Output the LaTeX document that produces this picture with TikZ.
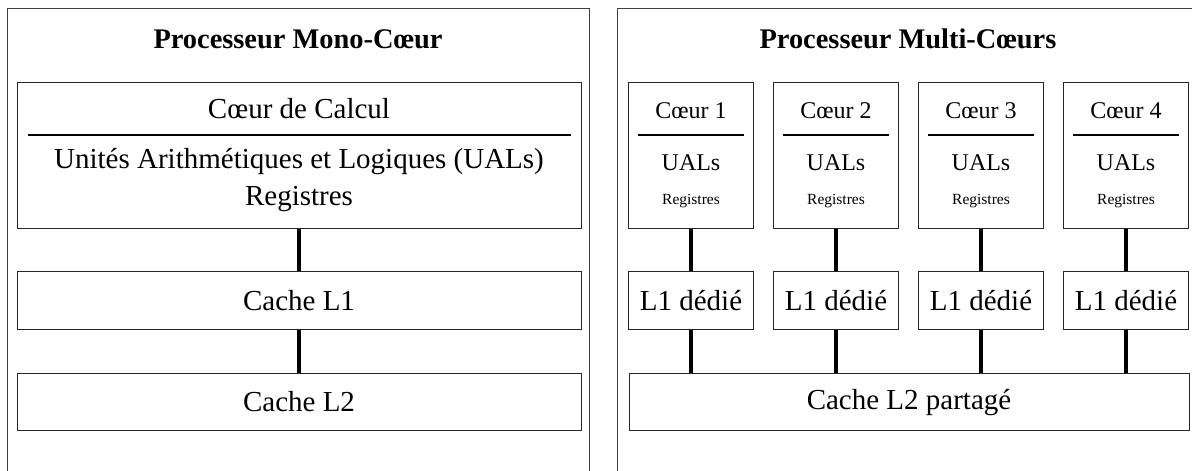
\documentclass[tikz,border=0pt]{standalone}
\usepackage{fontspec}
\setmainfont{Liberation Serif}
\tikzset{
  frame/.style={draw=black!75, line width=1.3pt, inner sep=0pt},
  box/.style={draw=black!85, line width=1pt, inner sep=0pt, fill=white},
  ttl/.style={font=\fontsize{28.4}{34}\selectfont\bfseries, anchor=base, inner sep=0pt},
  big/.style={font=\fontsize{29}{33}\selectfont, anchor=base, inner sep=0pt},
  mid/.style={font=\fontsize{24}{28}\selectfont, anchor=base, inner sep=0pt},
  sml/.style={font=\fontsize{15.5}{18}\selectfont, anchor=base, inner sep=0pt},
  rule/.style={line width=2.2pt},
  conn/.style={line width=4.5pt}
}
\begin{document}
\begin{tikzpicture}[x=1pt,y=-1pt]
\useasboundingbox (0,0) rectangle (1192,471);
\clip (0,0) rectangle (1192,471);
% frames
\node[frame, minimum width=582pt, minimum height=500pt, anchor=north west] (monoframe) at (7,8) {};
\node[frame, minimum width=600pt, minimum height=500pt, anchor=north west] (multiframe) at (617,8) {};
% titles
\node[ttl] (monotitle) at (298,48) {Processeur Mono-Cœur};
\node[ttl] (multititle) at (908,48) {Processeur Multi-Cœurs};
% mono core
\node[box, minimum width=564pt, minimum height=146pt] (core) at (299,155) {};
\node[big] (coretitle) at (299,118) {Cœur de Calcul};
\draw[rule] ([xshift=11pt]core.west |- 0,135) -- ([xshift=-11pt]core.east |- 0,135);
\node[big] (ual) at (299,168) {Unités Arithmétiques et Logiques (UALs)};
\node[big] (reg) at (299,205) {Registres};
\node[box, minimum width=564pt, minimum height=58pt] (cl1) at (299,300) {};
\node[big] (cl1t) at (299,310) {Cache L1};
\node[box, minimum width=564pt, minimum height=57pt] (cl2) at (299,401.5) {};
\node[big] (cl2t) at (299,411) {Cache L2};
\draw[conn] (core.south) -- (cl1.north);
\draw[conn] (cl1.south) -- (cl2.north);
% multi cores
\node[box, minimum width=560pt, minimum height=57pt] (l2p) at (909,401.5) {};
\node[big] (l2pt) at (909,409) {Cache L2 partagé};
\foreach \i/\x in {1/691,2/836,3/981,4/1126}{
  \node[box, minimum width=125pt, minimum height=146pt] (c\i) at (\x,155) {};
  \node[mid] (c\i t) at (\x,118) {Cœur \i};
  \draw[rule] ([xshift=10pt]c\i.west |- 0,135) -- ([xshift=-10pt]c\i.east |- 0,135);
  \node[mid] (c\i u) at (\x,170) {UALs};
  \node[sml] (c\i r) at (\x,204) {Registres};
  \node[box, minimum width=125pt, minimum height=58pt] (l\i) at (\x,300) {};
  \node[big] (l\i t) at (\x,310) {L1 dédié};
  \draw[conn] (c\i.south) -- (l\i.north);
  \draw[conn] (l\i.south) -- (l\i.south |- l2p.north);
}
\end{tikzpicture}
\end{document}
